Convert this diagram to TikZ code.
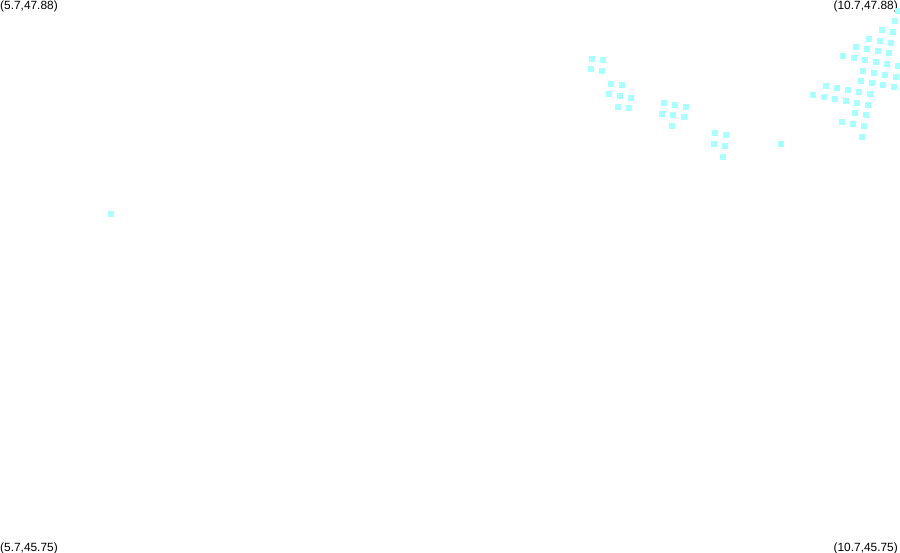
\documentclass[tikz,border=0pt]{standalone}
\usepackage{fontspec}
\setmainfont{Liberation Sans}
\definecolor{pointcyan}{HTML}{AAFFFF}
\tikzset{
  cornerlabel/.style={inner sep=0pt,font=\fontsize{11.9}{12}\selectfont},
  pointmark/.style={fill=pointcyan}
}
\begin{document}
\begin{tikzpicture}[x=1pt,y=-1pt]
\useasboundingbox (0,0) rectangle (900,552);
\clip (0,0) rectangle (900,552);
\node[cornerlabel,anchor=base west] (topleft) at (0,9) {(5.7,47.88)};
\node[cornerlabel,anchor=base east] (topright) at (898,9) {(10.7,47.88)};
\node[cornerlabel,anchor=base west] (bottomleft) at (0,551) {(5.7,45.75)};
\node[cornerlabel,anchor=base east] (bottomright) at (898,551) {(10.7,45.75)};
\foreach \x/\y in {111/214,592/59,603/60,591/69,602/71,611/84,622/85,609/94,620/96,631/98,618/107,629/108,664/103,675/105,686/107,662/114,673/115,684/117,672/126,715/133,726/135,714/144,725/146,723/157,781/144} {
  \fill[pointmark] (\x-3,\y-3) rectangle (\x+3,\y+3);
}
\foreach \x/\y in {898/11,895/21,882/30,893/32,869/39,880/41,891/43,856/47,867/49,878/51,889/53,843/56,854/58,865/60,876/62,887/64,898/66,863/71,874/73,885/75,896/77,861/81,872/83,883/85,894/87,826/86,837/88,848/90,859/92,870/94,813/95,824/97,835/99,846/101,857/103,868/105,855/113,866/115,842/122,853/124,864/126,862/137} {
  \fill[pointmark] (\x-3,\y-3) rectangle (\x+3,\y+3);
}
\end{tikzpicture}
\end{document}
